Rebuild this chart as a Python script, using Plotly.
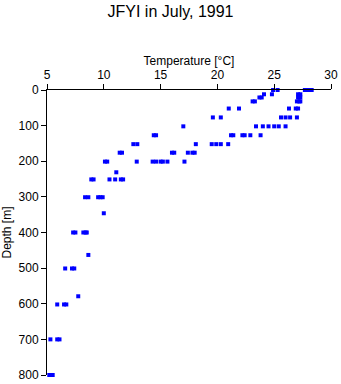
import plotly.graph_objects as go

# depth levels (m) and temperatures (°C) observed at each level
depths = [0, 12, 21, 32, 52, 77, 102, 127, 152, 176, 201, 231, 251, 301, 346,
          400, 463, 501, 579, 602, 700, 800]
temps = [
    [24.9, 25.3, 27.7, 27.9, 28.1, 28.3],
    [24.1, 24.8, 27.1, 27.3],
    [23.7, 23.9, 27.1, 27.3],
    [23.1, 23.3, 27.0, 27.2, 27.3],
    [21.0, 21.9, 26.3, 26.9, 27.1],
    [19.6, 20.3, 25.6, 26.0, 26.4, 27.0],
    [17.0, 23.4, 24.0, 24.5, 25.0, 25.4, 26.0],
    [14.4, 14.6, 21.2, 21.4, 22.2, 22.4, 22.9, 23.8],
    [12.6, 12.95, 18.1, 19.5, 19.9, 20.3, 20.95],
    [11.4, 11.6, 16.0, 16.2, 17.4, 17.8, 18.0],
    [10.1, 10.3, 12.9, 14.3, 14.6, 15.0, 15.2, 15.6, 17.1],
    [11.1],
    [8.9, 9.1, 10.5, 11.0, 11.5, 11.7],
    [8.35, 8.64, 9.5, 9.7, 9.9],
    [10.0],
    [7.3, 7.5, 8.2, 8.4, 8.5],
    [8.64],
    [6.6, 7.2, 7.4],
    [7.75],
    [5.9, 6.5, 6.7],
    [5.3, 5.9, 6.1],
    [5.2, 5.5],
]
x_ticks = [5, 10, 15, 20, 25, 30]
y_ticks = [0, 100, 200, 300, 400, 500, 600, 700, 800]

xs, ys = [], []
for d, ts in zip(depths, temps):
    for t in ts:
        xs.append(t)
        ys.append(d)

font = "Liberation Sans, Arial, sans-serif"
fig = go.Figure(go.Scatter(
    x=xs, y=ys, mode="markers",
    marker=dict(symbol="square", size=4, color="#0000ff", line=dict(width=0)),
    cliponaxis=False,
))
fig.update_layout(
    width=341, height=384,
    margin=dict(l=47, r=10, t=90, b=9),
    paper_bgcolor="white", plot_bgcolor="white",
    showlegend=False,
    font=dict(family=font, size=12, color="black"),
    title=dict(text="JFYI in July, 1991", x=0.5, xanchor="center",
               y=0.985, yanchor="top", yref="container",
               font=dict(family=font, size=16, color="black")),
)
fig.update_xaxes(
    side="top", range=[5, 30], tickvals=x_ticks, automargin=False,
    showgrid=False, zeroline=False,
    showline=True, linecolor="black", linewidth=1,
    ticks="outside", ticklen=5, tickcolor="black",
    title=dict(text="Temperature [°C]", standoff=0, font=dict(size=12)),
)
fig.update_yaxes(
    range=[800, 0], tickvals=y_ticks, automargin=False,
    showgrid=False, zeroline=False,
    showline=True, linecolor="black", linewidth=1,
    ticks="outside", ticklen=5, tickcolor="black",
    title=dict(text="Depth [m]", standoff=4, font=dict(size=12)),
)
fig.write_html("out.html")
